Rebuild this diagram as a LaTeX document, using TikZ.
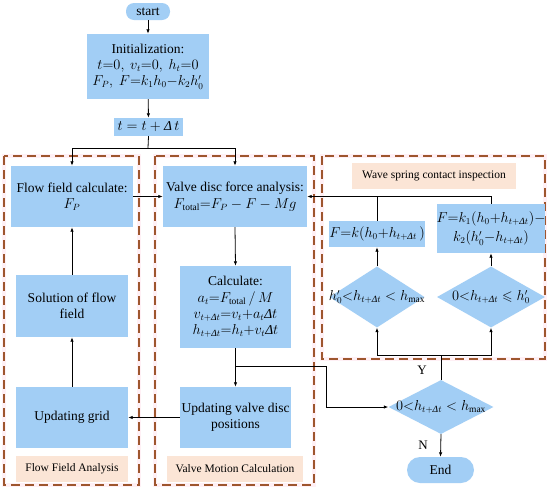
\documentclass[tikz,border=0pt]{standalone}
\usepackage{amsmath,amssymb}
\usepackage{fontspec}
\setmainfont{Liberation Serif}
\usetikzlibrary{shapes.geometric,arrows.meta}
\definecolor{boxblue}{RGB}{162,206,245}
\definecolor{peach}{RGB}{251,229,214}
\definecolor{dashbrown}{RGB}{158,86,46}
\definecolor{halo}{RGB}{255,240,245}
\newcommand{\Dlt}{\text{\itshape Δ}}
\tikzset{
  blk/.style={fill=boxblue, draw=none, align=center, inner sep=0pt,
    font=\fontsize{13.5}{16.3}\selectfont},
  pill/.style={blk, rounded corners=8pt},
  dia/.style={diamond, fill=boxblue, draw=none, inner sep=0pt},
  lbl/.style={fill=peach, draw=none, inner sep=0pt, align=center,
    font=\fontsize{11.5}{13}\selectfont},
  arr/.style={line width=0.8pt, -{Latex[length=4.5pt,width=3.5pt]}},
  ln/.style={line width=0.8pt},
  grp/.style={draw=dashbrown, line width=1.4pt, dash pattern=on 9pt off 5pt},
  haloline/.style={draw=halo, line width=4pt},
  yn/.style={font=\fontsize{13}{15}\selectfont}
}
\begin{document}
\begin{tikzpicture}[x=1pt,y=-1pt]
\useasboundingbox (0,0) rectangle (550,491);
\fill[white] (0,0) rectangle (550,491);
% group containers
\draw[haloline] (4,156) rectangle (139,485);
\draw[haloline] (155,156) rectangle (314,485);
\draw[haloline] (322,156) rectangle (545,359);
\draw[grp] (4,156) rectangle (139,485);
\draw[grp] (155,156) rectangle (314,485);
\draw[grp] (322,156) rectangle (545,359);

% nodes
\node[pill, minimum width=44pt, minimum height=17pt] (start) at (148,11.5) {start};
\node[blk, minimum width=122pt, minimum height=65pt] (init) at (148,66.5)
  {Initialization:\\ $t{=}0,\ v_t{=}0,\ h_t{=}0$\\ $F_P,\ F{=}k_1h_0{-}k_2h_0^{\prime}$};
\node[blk, minimum width=69pt, minimum height=18pt] (tbox) at (148.5,127) {$t = t + \Dlt\, t$};

\node[blk, minimum width=122pt, minimum height=61pt] (ffc) at (72,196.5)
  {Flow field calculate:\\ $F_P$};
\node[blk, minimum width=144pt, minimum height=61pt] (vdf) at (235,196.5)
  {Valve disc force analysis:\\ $F_{\mathrm{total}}{=}F_P - F - Mg$};
\node[blk, minimum width=112pt, minimum height=62pt] (sol) at (72,306)
  {Solution of flow\\ field};
\node[blk, minimum width=111pt, minimum height=82pt] (calc) at (235.5,307)
  {Calculate:\\ $a_t{=}F_{\mathrm{total}}\,/\,M$\\ $v_{t+\Dlt t}{=}v_t{+}a_t\Dlt t$\\ $h_{t+\Dlt t}{=}h_t{+}v_t\Dlt t$};
\node[blk, minimum width=112pt, minimum height=61pt] (ugrid) at (72,417.5) {Updating grid};
\node[blk, minimum width=111pt, minimum height=61pt] (uvalve) at (235.5,417.5)
  {Updating valve disc\\ positions};

\node[lbl, minimum width=112pt, minimum height=26pt] (lblF) at (72,469) {Flow Field Analysis};
\node[lbl, minimum width=136pt, minimum height=26pt] (lblV) at (235,469) {Valve Motion Calculation};
\node[lbl, minimum width=164pt, minimum height=26pt] (lblW) at (434,176) {Wave spring contact inspection};

\node[blk, minimum width=87pt, minimum height=26pt] (fk) at (377,234)
  {$F{=}k(h_0{+}h_{t+\Dlt t}\,)$};
\node[blk, minimum width=88pt, minimum height=49pt, font=\fontsize{13.5}{19}\selectfont] (fk2) at (491,228.5)
  {$F{=}k_1(h_0{+}h_{t+\Dlt t}){-}$\\ $k_2(h_0^{\prime}{-}h_{t+\Dlt t})$};

\node[dia, minimum width=95pt, minimum height=61pt] (d1) at (377,297) {};
\node[font=\fontsize{13.5}{16}\selectfont, inner sep=0pt] at (d1) {$h_0^{\prime}{<}h_{t+\Dlt t} < h_{\max}$};
\node[dia, minimum width=108pt, minimum height=61pt] (d2) at (491,297) {};
\node[font=\fontsize{13.5}{16}\selectfont, inner sep=0pt] at (d2) {$0{<}h_{t+\Dlt t} \leqslant h_0^{\prime}$};
\node[dia, minimum width=105pt, minimum height=54pt] (d3) at (441,407) {};
\node[font=\fontsize{13.5}{16}\selectfont, inner sep=0pt] at (d3) {$0{<}h_{t+\Dlt t} < h_{\max}$};

\node[pill, minimum width=67pt, minimum height=26pt, rounded corners=13pt] (end) at (440.5,470) {End};

% junction coordinates
\coordinate (j1) at (148,148);
\coordinate (j2) at (235.5,366);
\coordinate (bend) at (326,366);
\coordinate (j3) at (441,355);

% connectors
\draw[arr] (start) -- (init);
\draw[arr] (init) -- (tbox);
\draw[ln] (tbox.south) -- (j1);
\draw[arr] (j1) -| (ffc.north);
\draw[arr] (j1) -| (vdf.north);
\draw[arr] (ffc.east) -- (vdf.west);
\draw[arr] (vdf.south) -- (calc.north);
\draw[arr] (calc.south) -- (uvalve.north);
\draw[ln] (j2) -- (bend);
\draw[arr] (bend) |- (d3.west);
\draw[arr] (uvalve.west) -- (ugrid.east);
\draw[arr] (ugrid.north) -- (sol.south);
\draw[arr] (sol.north) -- (ffc.south);
\draw[ln] (d3.north) -- (j3);
\draw[arr] (j3) -| (d1.south);
\draw[arr] (j3) -| (d2.south);
\draw[arr] (d1.north) -- (fk.south);
\draw[arr] (d2.north) -- (fk2.south);
\draw[arr] (fk2.north) |- (vdf.east);
\draw[ln] (fk.north) -- (fk.north |- vdf.east);
\draw[arr] (d3.south) -- (end.north);

\node[yn] (ylab) at (422,370) {Y};
\node[yn] (nlab) at (423,445) {N};
\end{tikzpicture}
\end{document}
